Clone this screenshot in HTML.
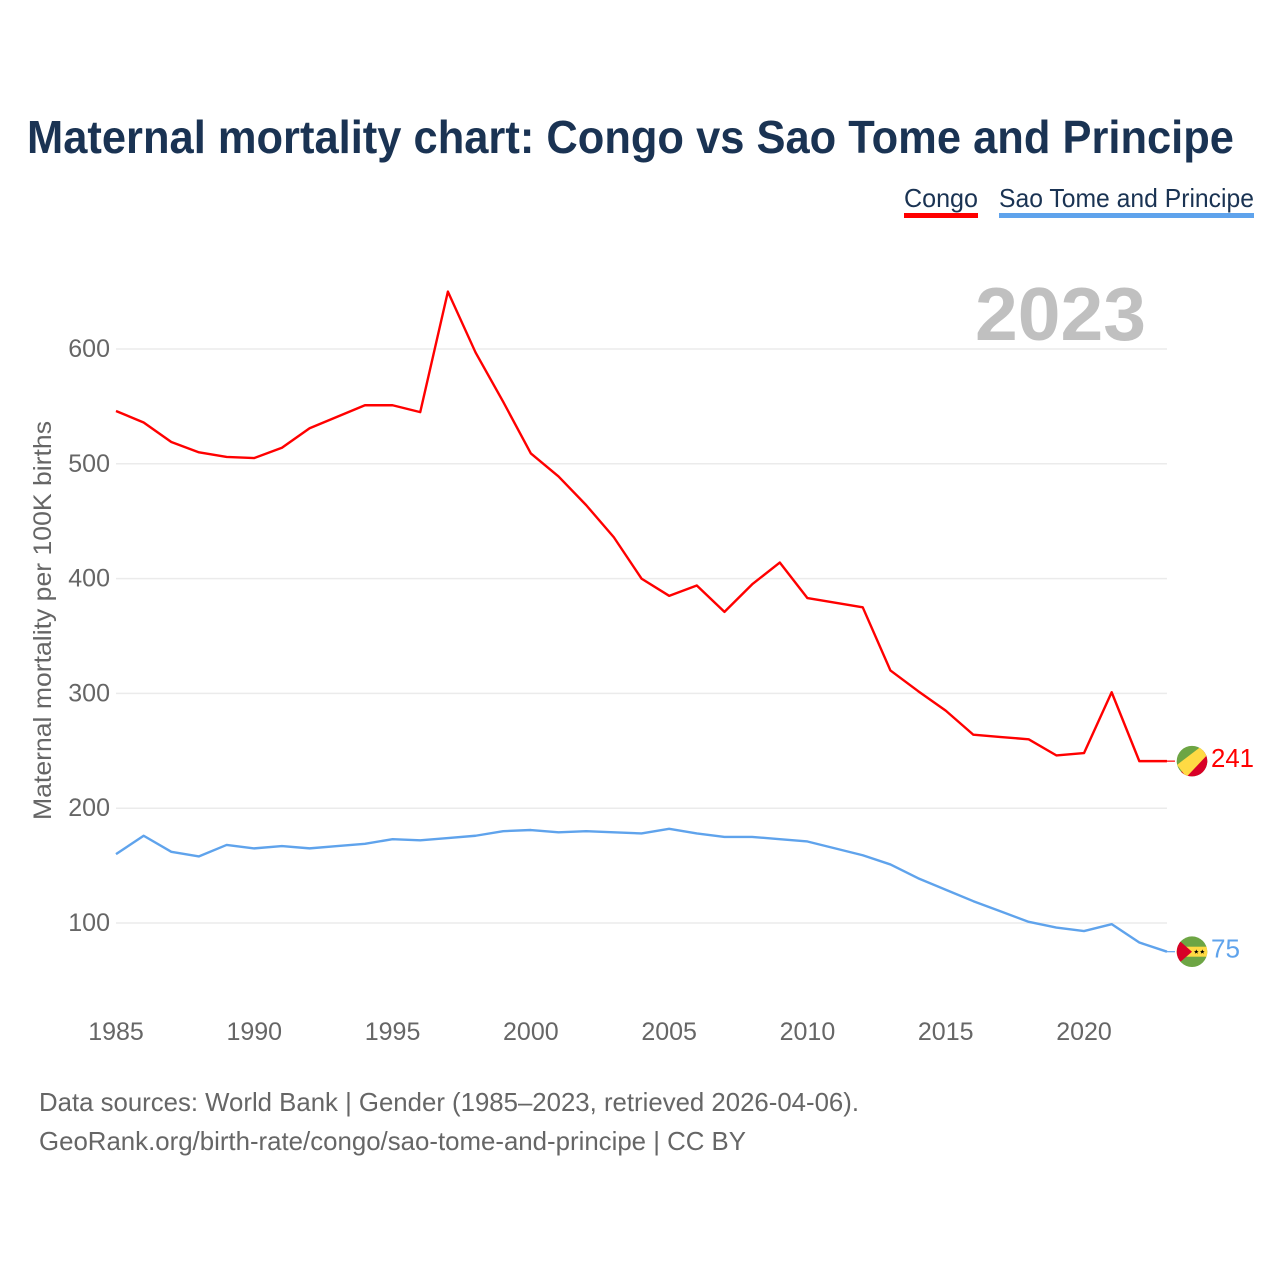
<!DOCTYPE html>
<html lang="en">
<head>
<meta charset="utf-8">
<title>Maternal mortality chart: Congo vs Sao Tome and Principe</title>
<style>
html,body{margin:0;padding:0;background:#fff}
svg{display:block}
text{font-family:"Liberation Sans",sans-serif}
</style>
</head>
<body>
<svg id="chart" xmlns="http://www.w3.org/2000/svg" width="1280" height="1280" viewBox="0 0 1280 1280">
<rect width="1280" height="1280" fill="#fff"/>
<text x="27" y="153" font-size="46" font-weight="700" fill="#1a3353" textLength="1207" lengthAdjust="spacingAndGlyphs">Maternal mortality chart: Congo vs Sao Tome and Principe</text>
<g>
<text x="904" y="207" font-size="26" fill="#1a3353" textLength="74" lengthAdjust="spacingAndGlyphs">Congo</text>
<rect x="904" y="213" width="74" height="5" fill="#ff0000"/>
</g>
<g>
<text x="999" y="207" font-size="26" fill="#1a3353" textLength="255" lengthAdjust="spacingAndGlyphs">Sao Tome and Principe</text>
<rect x="999" y="213" width="255" height="5" fill="#5fa3ec"/>
</g>
<text x="975" y="340" font-size="75" font-weight="700" fill="#c0c0c0" textLength="171" lengthAdjust="spacingAndGlyphs">2023</text>
<g id="grid"></g>
<g id="yticks"></g>
<g id="xticks"></g>
<text transform="translate(51 820) rotate(-90)" x="0" y="0" font-size="25" fill="#666" textLength="399" lengthAdjust="spacingAndGlyphs">Maternal mortality per 100K births</text>
<g id="series"></g>
<defs>
<clipPath id="clip-congo"><circle id="clip-congo-c" r="15.3"/></clipPath>
<clipPath id="clip-stp"><circle id="clip-stp-c" r="15.3"/></clipPath>
</defs>
<g id="flag-congo">
<g clip-path="url(#clip-congo)">
<g id="flag-congo-art">
<circle r="16" fill="#6da544"/>
<polygon points="-16,16 16,-16 16,16" fill="#d80027"/>
<polygon points="-15,3.7 8.3,-14 16,-7 -5.7,16" fill="#ffda44"/>
</g>
</g>
</g>
<g id="flag-stp">
<g clip-path="url(#clip-stp)">
<g id="flag-stp-art">
<rect x="-16" y="-16" width="32" height="32" fill="#6da544"/>
<rect x="-16" y="-5" width="32" height="10" fill="#ffda44"/>
<polygon points="-16,-14 0,0 -16,14" fill="#d80027"/>
<polygon points="4.3,-2.3 5,-.6 6.6,-.6 5.3,.5 5.8,2.1 4.3,1.1 2.8,2.1 3.3,.5 2,-.6 3.6,-.6" fill="#000"/>
<polygon points="10.3,-2.3 11,-.6 12.6,-.6 11.3,.5 11.8,2.1 10.3,1.1 8.8,2.1 9.3,.5 8,-.6 9.6,-.6" fill="#000"/>
</g>
</g>
</g>
<text id="value-congo" x="1211" font-size="25.5" fill="#ff0000" textLength="43" lengthAdjust="spacingAndGlyphs"></text>
<text id="value-stp" x="1211" font-size="25.5" fill="#5fa3ec" textLength="29" lengthAdjust="spacingAndGlyphs"></text>
<text x="39" y="1111" font-size="26" fill="#666" textLength="820" lengthAdjust="spacingAndGlyphs">Data sources: World Bank | Gender (1985–2023, retrieved 2026-04-06).</text>
<text x="39" y="1150" font-size="26" fill="#666" textLength="707" lengthAdjust="spacingAndGlyphs">GeoRank.org/birth-rate/congo/sao-tome-and-principe | CC BY</text>
</svg>
<script>
const years = [1985,1986,1987,1988,1989,1990,1991,1992,1993,1994,1995,1996,1997,1998,1999,2000,2001,2002,2003,2004,2005,2006,2007,2008,2009,2010,2011,2012,2013,2014,2015,2016,2017,2018,2019,2020,2021,2022,2023];
const congoValues = [546,536,519,510,506,505,514,531,541,551,551,545,650,597,554,509,489,464,436,400,385,394,371,395,414,383,379,375,320,302,285,264,262,260,246,248,301,241,241];
const saoTomeValues = [160,176,162,158,168,165,167,165,167,169,173,172,174,176,180,181,179,180,179,178,182,178,175,175,173,171,165,159,151,139,129,119,110,101,96,93,99,83,75];
const yTickValues = [100,200,300,400,500,600];
const xTickValues = [1985,1990,1995,2000,2005,2010,2015,2020];

const NS = 'http://www.w3.org/2000/svg';
function xScale(year){ return 116 + (year - 1985) * (1084 - 116) / 35; }
function yScale(value){ return 923 - (value - 100) * (923 - 349) / 500; }
function make(tag, parent){
  const el = document.createElementNS(NS, tag);
  parent.appendChild(el);
  return el;
}

const grid = document.getElementById('grid');
const yticks = document.getElementById('yticks');
yTickValues.forEach(function(v){
  const line = make('line', grid);
  
  
  line.setAttribute('x1', xScale(1985));
  line.setAttribute('x2', xScale(2023));
  line.setAttribute('y1', yScale(v));
  line.setAttribute('y2', yScale(v));
  line.setAttribute('stroke', '#ebebeb');
  line.setAttribute('stroke-width', '1.5');
  const t = make('text', yticks);
  
  
  t.setAttribute('x', 110);
  t.setAttribute('y', yScale(v) + 8);
  t.setAttribute('text-anchor', 'end');
  t.setAttribute('font-size', '25');
  t.setAttribute('fill', '#666');
  t.textContent = v;
});

const xticks = document.getElementById('xticks');
xTickValues.forEach(function(y){
  const t = make('text', xticks);
  
  
  t.setAttribute('x', xScale(y));
  t.setAttribute('y', 1040);
  t.setAttribute('text-anchor', 'middle');
  t.setAttribute('font-size', '25');
  t.setAttribute('fill', '#666');
  t.textContent = y;
});

function drawSeries(values, color, lineName, clipId, artId, valueId, labelDy){
  const group = document.getElementById('series');
  const pts = values.map(function(v, i){ return xScale(years[i]).toFixed(2) + ',' + yScale(v).toFixed(2); });
  const line = make('polyline', group);
  
  
  line.setAttribute('points', pts.join(' '));
  line.setAttribute('fill', 'none');
  line.setAttribute('stroke', color);
  line.setAttribute('stroke-width', '2.4');
  line.setAttribute('stroke-linejoin', 'round');
  const last = values[values.length - 1];
  const ly = yScale(last);
  const lead = make('line', group);
  
  
  lead.setAttribute('x1', xScale(2023));
  lead.setAttribute('x2', xScale(2023) + 8);
  lead.setAttribute('y1', ly);
  lead.setAttribute('y2', ly);
  lead.setAttribute('stroke', color);
  lead.setAttribute('stroke-width', '1.2');
  const c = document.getElementById(clipId);
  c.setAttribute('cx', 1192);
  c.setAttribute('cy', ly);
  document.getElementById(artId).setAttribute('transform', 'translate(1192 ' + ly + ')');
  const t = document.getElementById(valueId);
  t.setAttribute('y', ly + labelDy);
  t.textContent = last;
}
drawSeries(congoValues, '#ff0000', 'line-congo', 'clip-congo-c', 'flag-congo-art', 'value-congo', 6);
drawSeries(saoTomeValues, '#5fa3ec', 'line-sao-tome', 'clip-stp-c', 'flag-stp-art', 'value-stp', 6);
</script>
</body>
</html>
